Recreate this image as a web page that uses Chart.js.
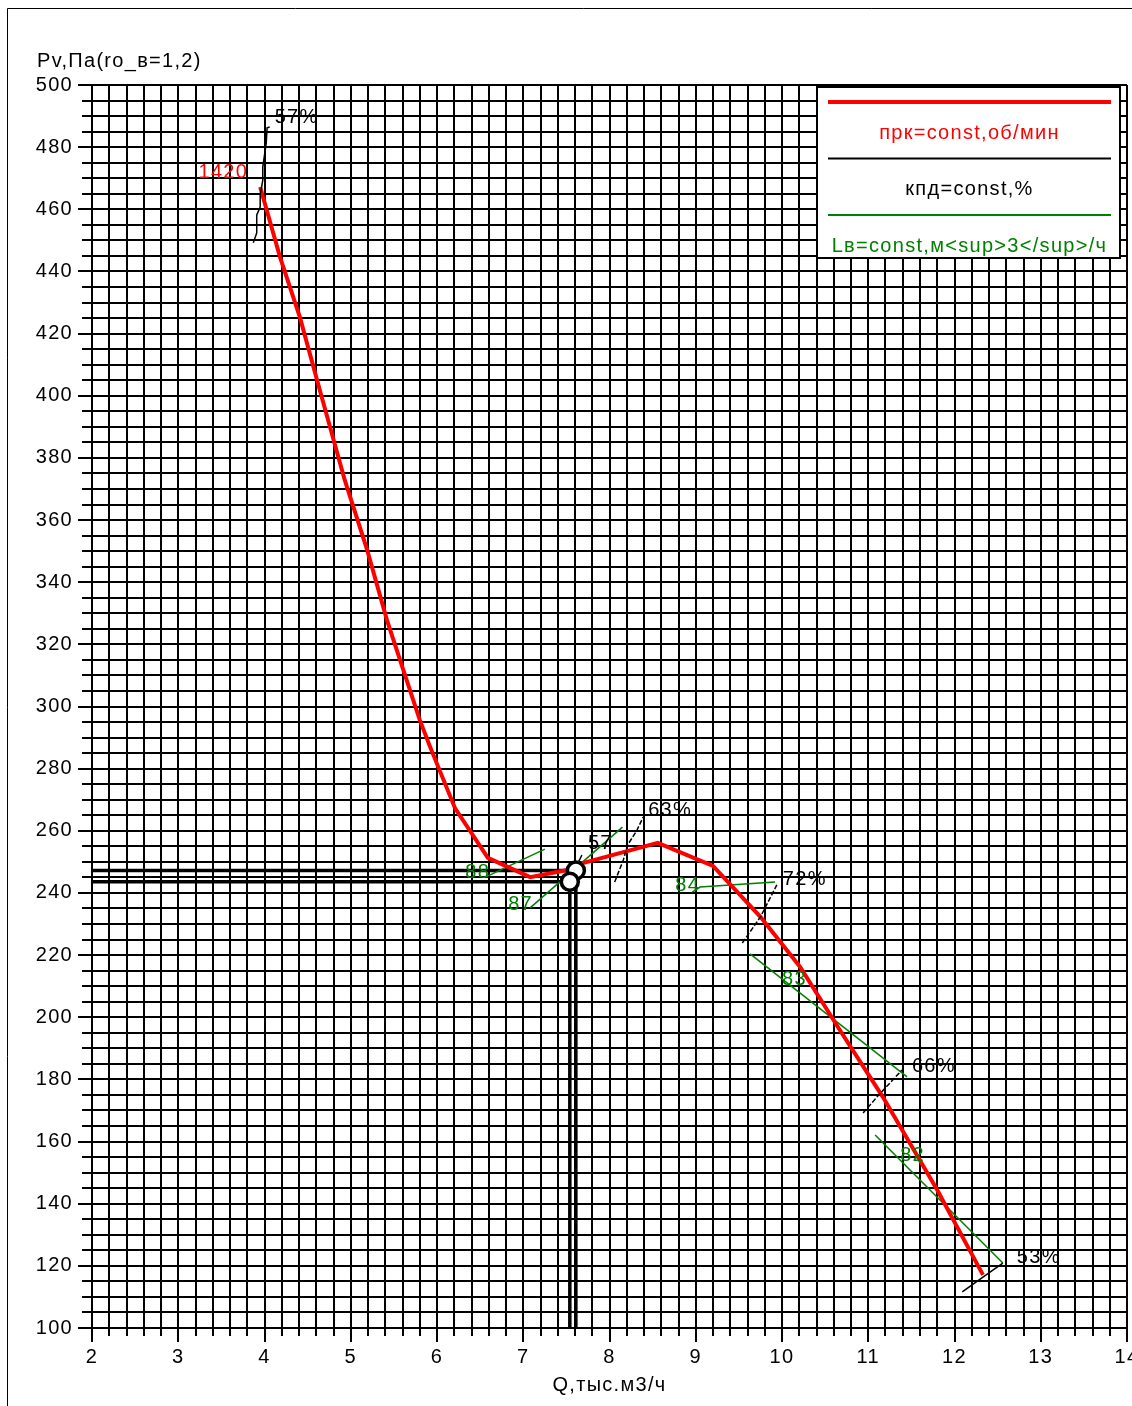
<!DOCTYPE html>
<html>
<head>
<meta charset="utf-8">
<script src="https://cdn.jsdelivr.net/npm/chart.js@4.4.1/dist/chart.umd.min.js"></script>
<style>
  html, body { margin: 0; padding: 0; overflow: hidden; background: #fff; }
  #wrap { position: absolute; left: 0; top: 0; width: 1160px; height: 1406px; }
</style>
</head>
<body>
<div id="wrap"><canvas id="fanChart" width="1160" height="1406"></canvas></div>
<script>
// напорная характеристика, n = 1420 об/мин
const flowQ = [3.95, 4.18, 4.41, 4.64, 4.93, 5.19, 5.42, 5.61, 5.80, 5.92, 6.21, 6.59, 7.08, 7.51, 7.69, 8.56, 9.20, 9.75, 10.21, 10.67, 11.17, 11.80, 12.33];
const pressureP = [467.2, 444.6, 425.3, 401.9, 372.9, 350.4, 327.8, 311.7, 295.7, 287.0, 267.2, 251.3, 245.1, 247.4, 249.6, 256.1, 248.7, 232.3, 216.2, 195.9, 174.3, 144.4, 117.1];
const rpmLabel = '1420';

// линии кпд=const, точки [Q, Pv]
const eff57a = [[3.87, 449.2], [3.91, 452.4], [3.91, 458.2], [3.95, 460.7], [3.95, 464.6], [3.98, 469.4], [3.98, 473.6], [4.02, 481.3], [4.03, 486.2], [4.06, 486.5]];
const eff57b = [[7.64, 249.9], [7.68, 252.2]];
const eff63 = [[8.06, 243.5], [8.16, 250.6], [8.21, 255.4], [8.32, 260.3], [8.39, 264.4]];
const eff72 = [[9.54, 223.9], [9.75, 232.3], [9.94, 242.6]];
const eff66 = [[10.94, 169.2], [11.10, 174.3], [11.39, 183.0]];
const eff53 = [[12.09, 111.6], [12.33, 116.4], [12.56, 120.9]];

// линии Lв=const
const lv88 = [[6.56, 245.1], [7.25, 254.1]];
const lv87 = [[7.08, 235.2], [8.15, 261.2]];
const lv84 = [[8.96, 240.3], [9.05, 241.9], [9.92, 243.5]];
const lv83 = [[9.63, 220.4], [11.45, 180.8]];
const lv82 = [[11.08, 162.1], [12.56, 120.9]];

// рабочие точки
const workQ = [7.61, 7.54];
const workP = [247.2, 243.6];

const xTickLabels = [2, 3, 4, 5, 6, 7, 8, 9, 10, 11, 12, 13, 14];
const yTickLabels = [100, 120, 140, 160, 180, 200, 220, 240, 260, 280, 300, 320, 340, 360, 380, 400, 420, 440, 460, 480, 500];

const RED = '#ff0000';
const GREEN = '#008000';
const FONT = { family: '"Liberation Sans", Arial, sans-serif', size: 20 };
const fontStr = '20px "Liberation Sans", Arial, sans-serif';

const toXY = pts => pts.map(([x, y]) => ({ x, y }));
const thinLine = (pts, color, dash) => ({
  data: toXY(pts), showLine: true, borderColor: color, borderWidth: 1.5,
  borderDash: dash || [], pointRadius: 0, tension: 0
});

const datasets = [
  {
    data: workQ.map((q, i) => ({ x: q, y: workP[i] })),
    showLine: false, pointRadius: 8.5, pointBorderWidth: 3.5,
    pointBorderColor: '#000', pointBackgroundColor: '#fff'
  },
  thinLine(eff57a, '#000'),
  thinLine(eff57b, '#000'),
  thinLine(eff63, '#000', [5, 2]),
  thinLine(eff72, '#000', [5, 2]),
  thinLine(eff66, '#000', [5, 2]),
  thinLine(eff53, '#000'),
  {
    data: flowQ.map((q, i) => ({ x: q, y: pressureP[i] })),
    showLine: true, borderColor: RED, borderWidth: 4, pointRadius: 0, tension: 0
  },
  ...[lv88, lv87, lv84, lv83, lv82].map(p => thinLine(p, GREEN)),
  ...workQ.map((q, i) => ({
    data: [{ x: 2, y: workP[i] }, { x: q, y: workP[i] }, { x: q, y: 100 }],
    showLine: true, borderColor: '#000', borderWidth: 3.5, pointRadius: 0, tension: 0
  }))
];

// подписи линий: [набор точек, индекс точки, смещение в px, текст, цвет]
const annotations = [
  [eff57a, 9, 5, -9, '57%', '#000'],
  [eff63, 4, 5, -7, '63%', '#000'],
  [eff57b, 1, 6, -12, '57', '#000'],
  [eff72, 2, 6, -5, '72%', '#000'],
  [eff66, 2, 10, -4, '66%', '#000'],
  [eff53, 2, 14, -6, '53%', '#000'],
  [lv88, 0, -20, -5, '88', GREEN],
  [lv87, 0, -22, -3, '87', GREEN],
  [lv84, 0, -17, -7, '84', GREEN],
  [lv83, 0, 32, 26, '83', GREEN],
  [lv82, 0, 25, 20, '82', GREEN]
];

const extras = {
  id: 'extras',
  beforeDraw(chart) {
    const ctx = chart.ctx;
    ctx.save();
    ctx.fillStyle = '#fff';
    ctx.fillRect(0, 0, chart.width, chart.height);
    ctx.strokeStyle = '#000';
    ctx.lineWidth = 1;
    ctx.beginPath();
    ctx.moveTo(7.5, chart.height);
    ctx.lineTo(7.5, 8.5);
    ctx.lineTo(chart.width, 8.5);
    ctx.stroke();
    ctx.restore();
    ctx.letterSpacing = '1.3px';
  },
  beforeDatasetsDraw(chart) {
    // длинные засечки у подписанных делений
    const { ctx, chartArea: a, scales: { x, y } } = chart;
    ctx.save();
    ctx.strokeStyle = '#000';
    ctx.lineWidth = 2;
    ctx.beginPath();
    xTickLabels.forEach(v => {
      const px = Math.round(x.getPixelForValue(v));
      ctx.moveTo(px, a.bottom);
      ctx.lineTo(px, a.bottom + 14);
    });
    yTickLabels.forEach(v => {
      const py = Math.round(y.getPixelForValue(v));
      ctx.moveTo(a.left - 14, py);
      ctx.lineTo(a.left, py);
    });
    ctx.stroke();
    ctx.restore();
  },
  afterDatasetsDraw(chart) {
    const { ctx, chartArea: a, scales: { x, y } } = chart;
    ctx.save();
    ctx.font = fontStr;
    ctx.textBaseline = 'middle';
    ctx.textAlign = 'left';

    annotations.forEach(([pts, idx, dx, dy, text, color]) => {
      ctx.fillStyle = color;
      ctx.fillText(text, x.getPixelForValue(pts[idx][0]) + dx, y.getPixelForValue(pts[idx][1]) + dy);
    });

    ctx.fillStyle = RED;
    ctx.textAlign = 'right';
    ctx.fillText(rpmLabel, x.getPixelForValue(flowQ[0]) - 12, y.getPixelForValue(pressureP[0]) - 14);

    // подписи осей
    ctx.fillStyle = '#000';
    ctx.textAlign = 'left';
    ctx.fillText('Pv,Па(ro_в=1,2)', 37, a.top - 24);
    ctx.textAlign = 'center';
    ctx.fillText('Q,тыс.м3/ч', (a.left + a.right) / 2, a.bottom + 57);

    // легенда
    const L = a.right - 310, T = a.top + 2, W = 303, H = 171;
    ctx.fillStyle = '#fff';
    ctx.fillRect(L, T, W, H);
    ctx.strokeStyle = '#000';
    ctx.lineWidth = 2;
    ctx.strokeRect(L, T, W, H);
    const items = [
      [RED, 4, 'прк=const,об/мин'],
      ['#000', 2, 'кпд=const,%'],
      [GREEN, 2, 'Lв=const,м<sup>3</sup>/ч']
    ];
    items.forEach(([color, w, text], i) => {
      const ly = T + 15 + i * 56.5;
      ctx.strokeStyle = color;
      ctx.lineWidth = w;
      ctx.beginPath();
      ctx.moveTo(L + 11, ly);
      ctx.lineTo(L + W - 9, ly);
      ctx.stroke();
      ctx.fillStyle = color;
      ctx.textAlign = 'center';
      ctx.fillText(text, L + W / 2 + 1, ly + 31);
    });
    ctx.restore();
  }
};

new Chart(document.getElementById('fanChart'), {
  type: 'scatter',
  data: { datasets },
  options: {
    responsive: false,
    animation: false,
    events: [],
    layout: { padding: { left: 0, top: 85, right: 33, bottom: 0 } },
    plugins: { legend: { display: false }, tooltip: { enabled: false } },
    scales: {
      x: {
        type: 'linear', min: 2, max: 14,
        afterFit: s => { s.height = 78; },
        grid: { color: '#000', lineWidth: 2, tickLength: 8 },
        border: { color: '#000', width: 2 },
        ticks: {
          stepSize: 0.2, autoSkip: false, maxRotation: 0, padding: 9,
          color: '#000', font: FONT,
          callback: v => {
            const r = Math.round(v);
            return Math.abs(v - r) < 1e-6 && xTickLabels.includes(r) ? String(r) : '';
          }
        }
      },
      y: {
        type: 'linear', min: 100, max: 500,
        afterFit: s => { s.width = 92; },
        grid: { color: '#000', lineWidth: 2, tickLength: 10 },
        border: { color: '#000', width: 2 },
        ticks: {
          stepSize: 5, autoSkip: false, padding: 9,
          color: '#000', font: FONT,
          callback: v => {
            const r = Math.round(v);
            return Math.abs(v - r) < 1e-6 && yTickLabels.includes(r) ? String(r) : '';
          }
        }
      }
    }
  },
  plugins: [extras]
});
</script>
</body>
</html>
